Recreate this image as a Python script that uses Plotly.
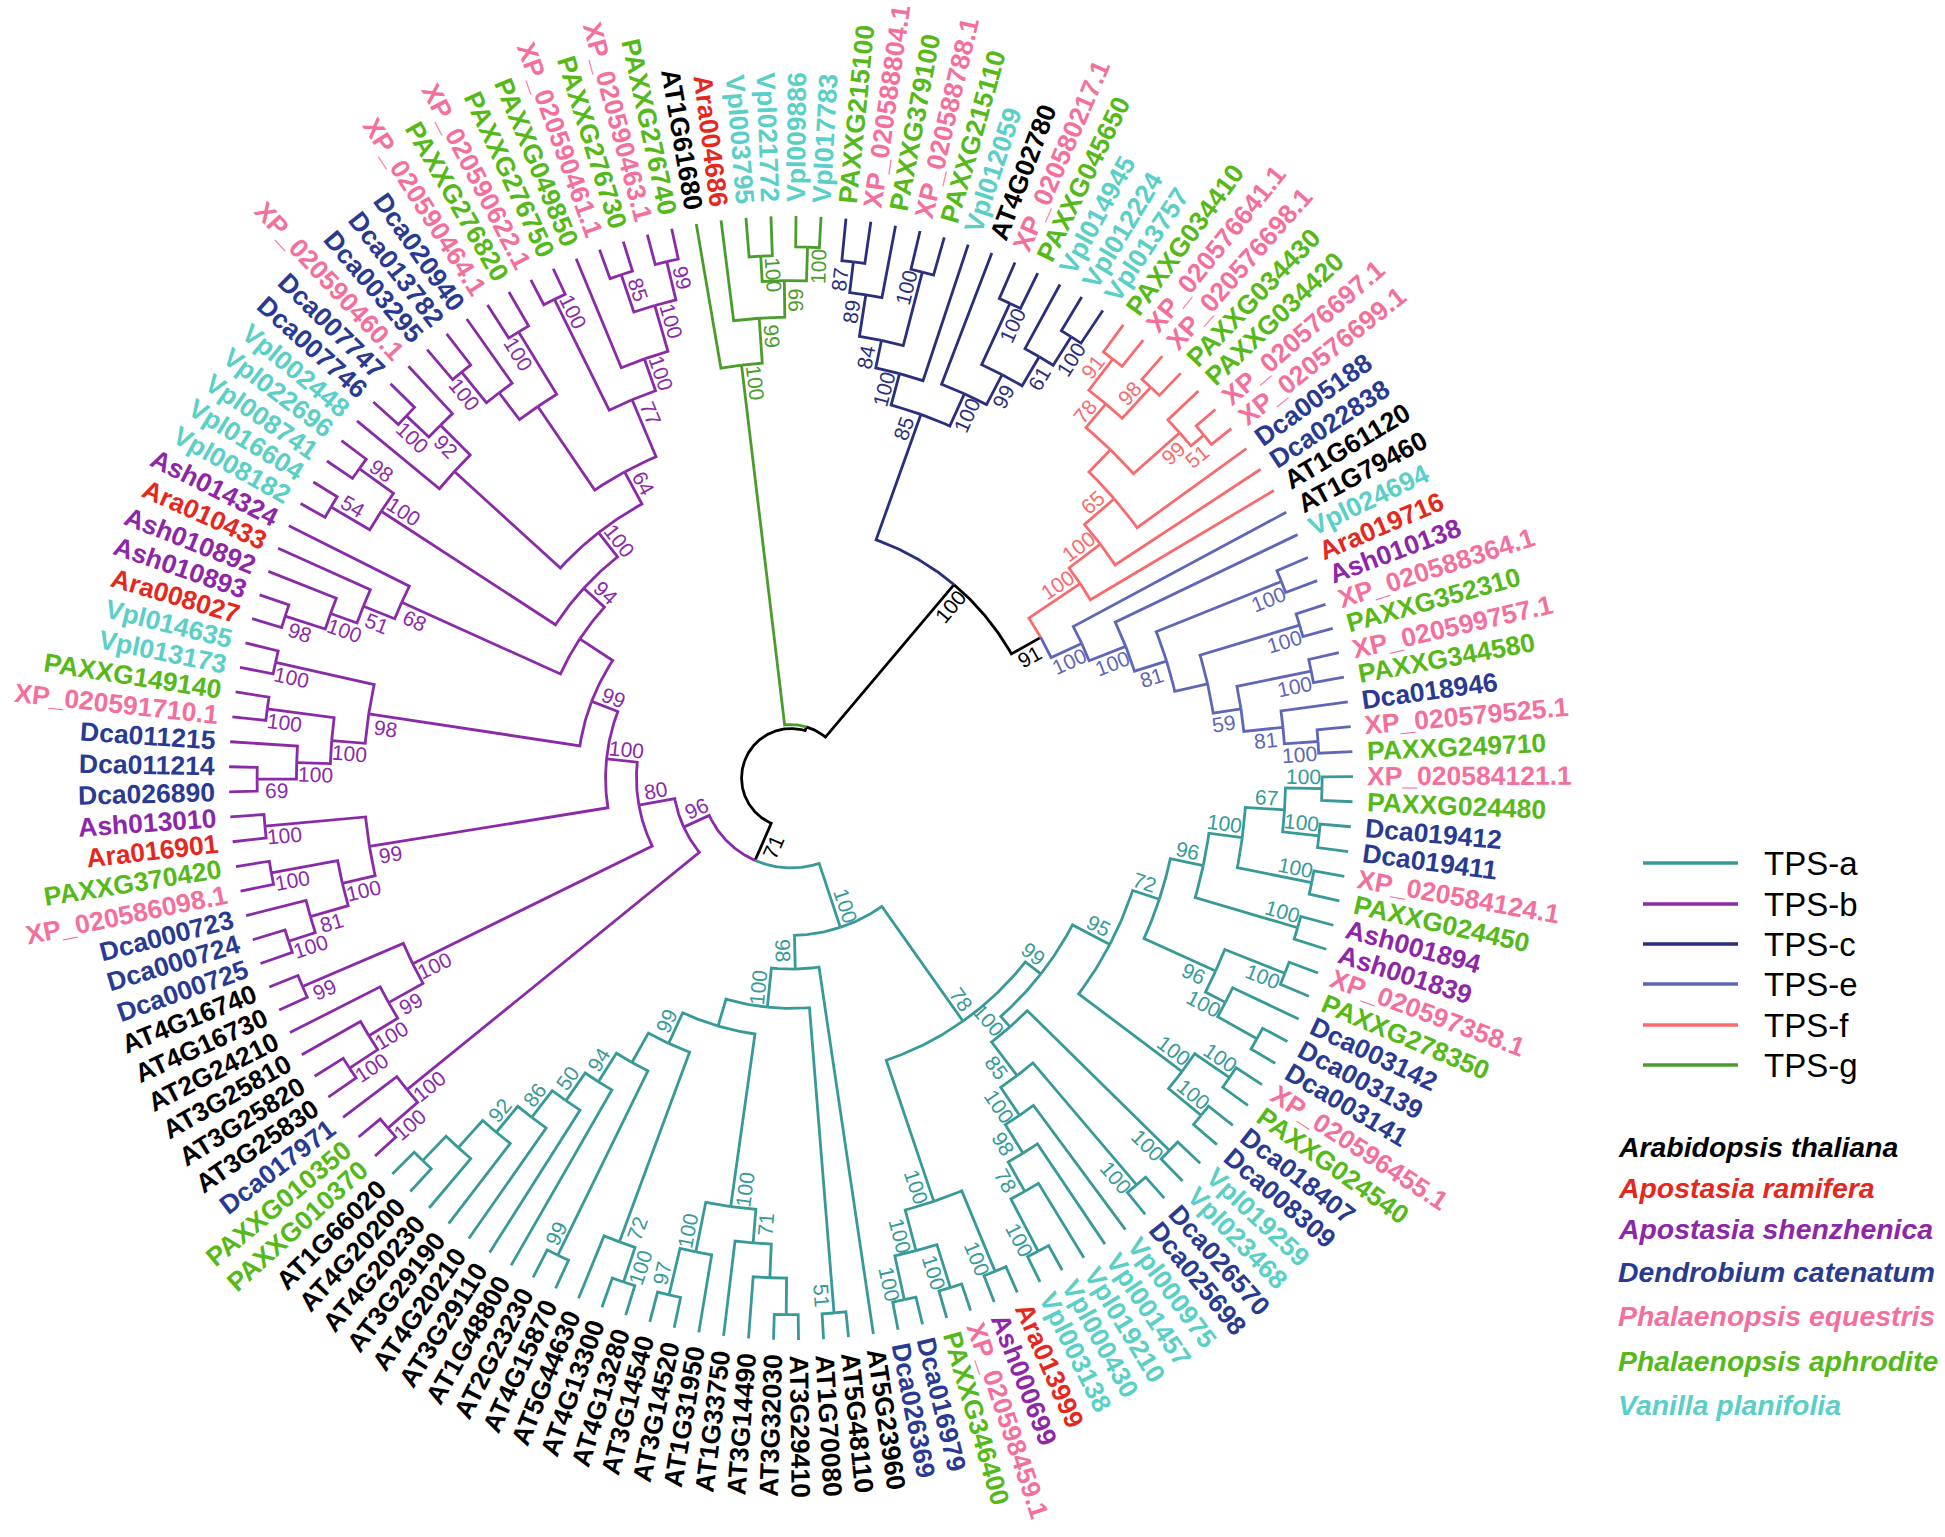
import math
import plotly.graph_objects as go

# ---------------------------------------------------------------- data
# Newick subtrees: internal nodes carry "bootstrap:relative node height"
# (height 0 = root centre, 1 = aligned tips).
TPS_G_NEWICK = "(AT1G61680,(Ara004686,((Vpl003795,Vpl021772)100:0.93,(Vpl009886,Vpl017783)100:0.945)66:0.885)99:0.82)100:0.74"

TPS_C_NEWICK = ("(((((PAXXG215100,XP_020588804.1)87:0.925,PAXXG379100)89:0.87,(XP_020588788.1,PAXXG215110)100:0.93)84:0.795,"
                "Vpl012059)100:0.745,(AT4G02780,((XP_020580217.1,PAXXG045650)100:0.93,(Vpl014945,(Vpl012224,Vpl013757)100:0.93)61:0.87)99:0.81)100:0.75)85:0.687")

TPS_F_NEWICK = ("((((((PAXXG034410,XP_020576641.1)91:0.94,(XP_020576698.1,PAXXG034430)98:0.945)78:0.87,"
                "(PAXXG034420,(XP_020576697.1,XP_020576699.1)51:0.955)99:0.925):0.815,Dca005188)65:0.76,Dca022838)100:0.69,AT1G61120)100:0.62")

TPS_E_NEWICK = ("(AT1G79460,(Vpl024694,((Ara019716,Ash010138)100:0.94,((XP_020588364.1,PAXXG352310)100:0.945,"
                "((XP_020599757.1,PAXXG344580)100:0.945,(Dca018946,(XP_020579525.1,PAXXG249710)100:0.94)81:0.88)59:0.81):0.76)81:0.70)100:0.64)100:0.57")

TPS_A_PARTS = {
    "T1": "((XP_020584121.1,PAXXG024480)100:0.945,(Dca019412,Dca019411)100:0.945)67:0.88",
    "T96": "((XP_020597358.1,PAXXG278350)100:0.945,(Dca003142,(Dca003139,Dca003141):0.95)100:0.87)96:0.83",
    "Q": "((XP_020596455.1,PAXXG024540)100:0.945,(Dca018407,Dca008309)100:0.945)100:0.87",
    "V": "((Vpl019259,Vpl023468)100:0.945,((Dca026570,Dca025698)100:0.95,(Vpl000975,(Vpl001457,(Vpl019210,(Vpl000430,Vpl003138)100:0.95)78:0.845)98:0.785)100:0.725)85:0.665)100:0.59",
    "W": "((Ara013999,Ash000699)100:0.95,((XP_020598459.1,PAXXG346400)100:0.95,(Dca016979,Dca026369)100:0.95)100:0.87)100:0.795",
    "N77": "((((AT3G29410,AT3G32030):0.955,AT3G14490):0.89,AT1G33750)71:0.83,(AT1G31950,(AT3G14520,AT3G14540)97:0.945)100:0.86)100:0.77",
    "N72": "((AT4G13280,AT4G13300)100:0.945,AT5G44630)72:0.88",
    "L6": "((AT4G15870,AT2G23230)99:0.945,(AT1G48800,(AT3G29110,(AT4G20210,(AT3G29190,(AT4G20230,(AT4G20200,AT1G66020):0.945):0.885)92:0.82)86:0.76)50:0.70)94:0.64):0.58",
}
TPS_A_TEMPLATE = ("((((((({T1},(XP_020584124.1,PAXXG024450)100:0.945)100:0.81,(Ash001894,Ash001839)100:0.94)96:0.75,{T96})72:0.69,{Q})95:0.64,{V})99:0.565,{W})78:0.53,"
                  "(AT5G23960,((AT5G48110,AT1G70080)51:0.955,({N77},({N72},{L6})99:0.52):0.46)100:0.41)98:0.34)100:0.28")

TPS_B_PARTS = {
    "Ba": "((PAXXG010370,PAXXG010350)100:0.95,Dca017971)100:0.88",
    "ATg": "((((AT3G25830,AT3G25820)100:0.94,AT3G25810)100:0.88,AT2G24210)99:0.82,(AT4G16730,AT4G16740)99:0.945)100:0.75",
    "Bc": "((((Dca000725,Dca000724)100:0.94,Dca000723)81:0.89,(XP_020586098.1,PAXXG370420)100:0.94)100:0.82,(Ara016901,Ash013010)100:0.94)99:0.76",
    "Bd": "((((Dca026890,Dca011214)69:0.95,Dca011215)100:0.88,(XP_020591710.1,PAXXG149140)100:0.94)100:0.82,(Vpl013173,Vpl014635)100:0.94)98:0.76",
    "G1": "((((Ara008027,Ash010893)98:0.945,Ash010892)100:0.87,Ara010433)51:0.82,Ash014324)68:0.76",
    "G2": "((Vpl008182,Vpl016604)54:0.95,(Vpl008741,Vpl022696)98:0.945)100:0.87",
    "G3": "(Vpl002448,((Dca007746,Dca007747)100:0.94,XP_020590460.1)92:0.885):0.81",
    "S64": "(((Dca003295,Dca013782)100:0.93,Dca020940):0.86,(XP_020590464.1,PAXXG276820)100:0.93):0.80",
    "N77": "((XP_020590622.1,PAXXG276750)100:0.95,(PAXXG049850,((XP_020590461.1,PAXXG276730)85:0.945,(XP_020590463.1,PAXXG276740)99:0.945)100:0.875)100:0.79)77:0.73",
}
TPS_B_TEMPLATE = "({Ba},({ATg},({Bc},({Bd},({G1},({G2},({G3},({S64},{N77})64:0.62)100:0.555)94:0.50):0.45)99:0.38)100:0.33)80:0.275)96:0.21"

BACKBONE_NEWICK = "(([TPS-a],[TPS-b])71:0.16,([TPS-g],([TPS-c],([TPS-f],[TPS-e])91:0.51)100:0.45):0.095):0.088"

CLADE_NAMES = ["TPS-a", "TPS-b", "TPS-c", "TPS-e", "TPS-f", "TPS-g"]
CLADE_COLORS = ["#379A98", "#8B2AA8", "#2B2E7C", "#5F66B8", "#F76B6E", "#4A9C2C"]

SPECIES_NAMES = ["Arabidopsis thaliana", "Apostasia ramifera", "Apostasia shenzhenica", "Dendrobium catenatum",
                 "Phalaenopsis equestris", "Phalaenopsis aphrodite", "Vanilla planifolia"]
SPECIES_PREFIXES = ["AT", "Ara", "Ash", "Dca", "XP_", "PAXXG", "Vpl"]
SPECIES_COLORS = ["#000000", "#E5281E", "#8E26A8", "#283A92", "#F4709C", "#55B91A", "#5ACFC8"]

# ---------------------------------------------------------------- geometry / style
CX, CY, RTIP = 791.0, 778.0, 562.0
TIP_FONT = 26.5
BOOT_FONT = 21
LINE_W = 2.8
FONT = "Arial, Liberation Sans, sans-serif"


def parse_newick(s):
    pos = 0

    def read_token(stops):
        nonlocal pos
        start = pos
        while pos < len(s) and s[pos] not in stops:
            pos += 1
        return s[start:pos]

    def node():
        nonlocal pos
        if s[pos] == '(':
            pos += 1
            kids = [node()]
            while s[pos] == ',':
                pos += 1
                kids.append(node())
            pos += 1  # ')'
            label = read_token(':,);')
            depth = None
            if pos < len(s) and s[pos] == ':':
                pos += 1
                depth = float(read_token(',);'))
            return {"name": None, "label": label, "depth": depth, "children": kids}
        name = read_token(':,);')
        return {"name": name, "label": "", "depth": 1.0, "children": []}

    return node()


clade_trees = {
    "TPS-a": parse_newick(TPS_A_TEMPLATE.format(**TPS_A_PARTS)),
    "TPS-b": parse_newick(TPS_B_TEMPLATE.format(**TPS_B_PARTS)),
    "TPS-c": parse_newick(TPS_C_NEWICK),
    "TPS-e": parse_newick(TPS_E_NEWICK),
    "TPS-f": parse_newick(TPS_F_NEWICK),
    "TPS-g": parse_newick(TPS_G_NEWICK),
}
clade_color = dict(zip(CLADE_NAMES, CLADE_COLORS))


def paint(n, color):
    n["color"] = color
    for c in n["children"]:
        paint(c, color)


root = parse_newick(BACKBONE_NEWICK)


def graft(n):
    n["color"] = "#000000"
    for i, c in enumerate(n["children"]):
        if c["name"] and c["name"].startswith("["):
            key = c["name"][1:-1]
            sub = clade_trees[key]
            paint(sub, clade_color[key])
            n["children"][i] = sub
        else:
            graft(c)


graft(root)

leaves = []


def collect(n, parent=None):
    n["parent"] = parent
    if not n["children"]:
        leaves.append(n)
        n["count"] = 1
    for c in n["children"]:
        collect(c, n)
    if n["children"]:
        n["count"] = sum(c["count"] for c in n["children"])


collect(root)
N = len(leaves)
assert N == 141, N
STEP = 360.0 / N
START = -0.13
for i, lf in enumerate(leaves):
    lf["angle"] = START + i * STEP


def set_angles(n):
    if n["children"]:
        for c in n["children"]:
            set_angles(c)
        n["angle"] = 0.5 * (n["children"][0]["angle"] + n["children"][-1]["angle"])
    n["r"] = n["depth"] * RTIP


set_angles(root)


# side of the stem on which a support value is written: towards the larger
# child; ties follow the parent inside a clade (counter-clockwise at clade roots)
def set_side(n, inherited=-1):
    if n["children"]:
        if n["parent"] is not None and n["parent"]["color"] != n["color"]:
            inherited = -1
        first, last = n["children"][0]["count"], n["children"][-1]["count"]
        if last > first:
            side = 1
        elif first > last:
            side = -1
        else:
            side = inherited
        n["side"] = side
        for c in n["children"]:
            set_side(c, side)


set_side(root)


def polar(r, a):
    t = math.radians(a)
    return CX + r * math.cos(t), CY + r * math.sin(t)


def text_angle(a):
    a = ((a + 180.0) % 360.0) - 180.0
    if a > 90:
        return a - 180.0
    if a < -90:
        return a + 180.0
    return a


segs = {}
all_nodes = []


def walk(n):
    all_nodes.append(n)
    for c in n["children"]:
        walk(c)


walk(root)
for n in all_nodes:
    p = n["parent"]
    if p is None:
        continue
    a0, a1 = p["angle"], n["angle"]
    k = max(2, int(abs(a1 - a0) / 0.5) + 2)
    xs, ys = segs.setdefault(n["color"], ([], []))
    for i in range(k):
        x, y = polar(p["r"], a0 + (a1 - a0) * i / (k - 1))
        xs.append(x)
        ys.append(y)
    x, y = polar(n["r"], a1)
    xs.append(x)
    ys.append(y)
    xs.append(None)
    ys.append(None)

fig = go.Figure()
for color, (xs, ys) in segs.items():
    fig.add_trace(go.Scatter(x=xs, y=ys, mode="lines", line=dict(color=color, width=LINE_W),
                             hoverinfo="skip", showlegend=False))

W_EM = {c: 0.556 for c in "0123456789"}
W_EM.update({'.': 0.278, '_': 0.556, 'A': 0.722, 'C': 0.722, 'D': 0.722, 'G': 0.778, 'P': 0.667,
             'T': 0.611, 'V': 0.667, 'X': 0.667, 'a': 0.556, 'c': 0.556, 'h': 0.611, 'l': 0.278,
             'p': 0.611, 'r': 0.389, 's': 0.556})


def text_w(t, size):
    return sum(W_EM.get(ch, 0.6) for ch in t) * size


def species_color(name):
    for pre, col in zip(SPECIES_PREFIXES, SPECIES_COLORS):
        if name.startswith(pre):
            return col
    return "#000000"


anns = []
for lf in leaves:
    a = lf["angle"]
    w = text_w(lf["name"], TIP_FONT)
    x, y = polar(RTIP + 14 + w / 2, a)
    anns.append(dict(x=x, y=y, xref="x", yref="y", text=lf["name"], showarrow=False,
                     textangle=text_angle(a), xanchor="center", yanchor="middle",
                     font=dict(family=FONT, size=TIP_FONT, color=species_color(lf["name"]), weight="bold")))

for n in all_nodes:
    if not n["children"] or not n["label"] or n["parent"] is None:
        continue
    a = n["angle"]
    x, y = polar(n["r"] - 19, a)
    t = math.radians(a)
    off = 11.5 * n["side"]          # +1 clockwise, -1 counter-clockwise
    x += -off * math.sin(t)
    y += off * math.cos(t)
    anns.append(dict(x=x, y=y, xref="x", yref="y", text=n["label"], showarrow=False,
                     textangle=text_angle(a), xanchor="center", yanchor="middle",
                     font=dict(family=FONT, size=BOOT_FONT, color=n["color"])))

shapes = []
LEG_Y = [863, 904, 944, 984, 1025, 1065]
for name, col, yy in zip(CLADE_NAMES, CLADE_COLORS, LEG_Y):
    shapes.append(dict(type="line", xref="x", yref="y", x0=1643, x1=1738, y0=yy, y1=yy,
                       line=dict(color=col, width=3.5)))
    anns.append(dict(x=1762, y=yy, xref="x", yref="y", text=name, showarrow=False,
                     xanchor="left", yanchor="middle",
                     font=dict(family=FONT, size=33, color="#000000")))

SP_Y = [1147, 1188, 1229, 1272, 1316, 1361, 1405]
for name, col, yy in zip(SPECIES_NAMES, SPECIES_COLORS, SP_Y):
    anns.append(dict(x=1616, y=yy, xref="x", yref="y", text=name, showarrow=False,
                     xanchor="left", yanchor="middle",
                     font=dict(family=FONT, size=28.4, color=col, weight="bold", style="italic")))

fig.update_layout(
    width=1945, height=1537, autosize=False,
    margin=dict(l=0, r=0, t=0, b=0, pad=0),
    paper_bgcolor="white", plot_bgcolor="white",
    xaxis=dict(range=[0, 1945], visible=False, fixedrange=True),
    yaxis=dict(range=[1537, 0], visible=False, fixedrange=True),
    annotations=anns, shapes=shapes, showlegend=False,
)

fig.write_html("out.html", config={"displayModeBar": False},
               post_script="document.body.style.margin='0px';document.body.style.overflow='hidden';")
